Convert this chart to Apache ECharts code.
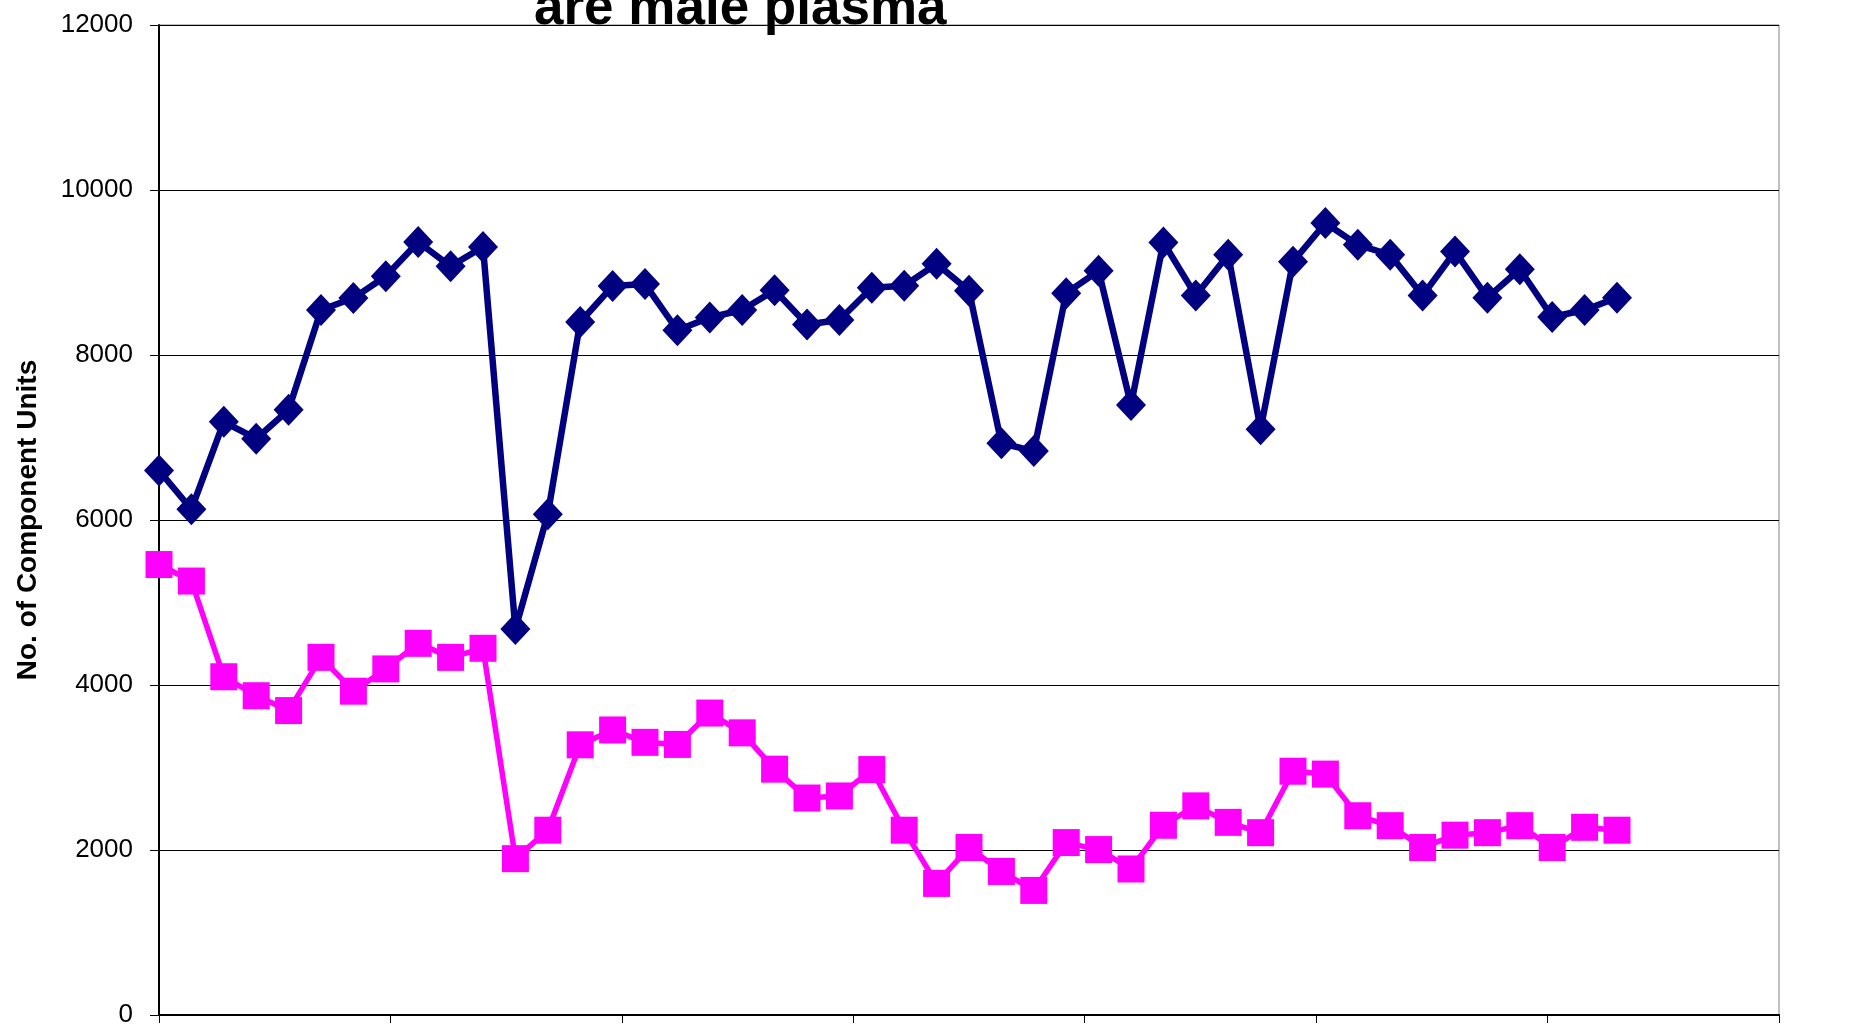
<!DOCTYPE html>
<html>
<head>
<meta charset="utf-8">
<script src="https://cdn.jsdelivr.net/npm/echarts@6/dist/echarts.min.js"></script>
<style>
html,body{margin:0;padding:0;background:#fff;}
#chart{width:1858px;height:1036px;}
</style>
</head>
<body>
<div id="chart"></div>
<script>
// x positions of the samples (day offsets)
const days = [0,7,14,21,28,35,42,49,56,63,70,77,84,91,98,105,112,119,126,133,140,147,154,161,168,175,182,189,196,203,210,217,224,231,238,245,252,259,266,273,280,287,294,301,308,315];

// navy series (diamonds)
const seriesA = [6600,6130,7190,6985,7335,8545,8690,8955,9370,9075,9310,4680,6070,8400,8835,8860,8300,8455,8545,8785,8370,8425,8815,8840,9105,8780,6930,6835,8750,9020,7395,9365,8720,9215,7100,9130,9600,9335,9215,8720,9255,8695,9040,8460,8545,8695];

// magenta series (squares)
const seriesB = [5460,5260,4100,3870,3690,4335,3925,4195,4505,4335,4445,1895,2240,3275,3455,3305,3280,3660,3420,2980,2630,2655,2975,2240,1595,2030,1740,1510,2090,2005,1770,2300,2535,2335,2210,2955,2920,2415,2295,2030,2180,2210,2295,2030,2275,2240];

const titleText = 'are male plasma';
const yAxisName = 'No. of Component Units';

const FONT = 'Liberation Sans, Arial, sans-serif';

function pairs(xs, ys){ return xs.map((x,i)=>[x, ys[i]]); }

const chart = echarts.init(document.getElementById('chart'), null, {renderer:'canvas'});
chart.setOption({
  animation: false,
  backgroundColor: '#ffffff',
  title: {
    text: titleText,
    left: 534,
    top: -17,
    padding: 0,
    textStyle: {fontFamily: FONT, fontSize: 53, fontWeight: 'bold', color: '#000'}
  },
  grid: {
    left: 159, right: 79, top: 25, bottom: 21,
    show: true, borderColor: '#808080', borderWidth: 1, backgroundColor: 'transparent'
  },
  xAxis: {
    type: 'value',
    min: 0, max: 350, interval: 50,
    axisLine: {show: true, onZero: false, lineStyle: {color: '#000', width: 2}},
    axisTick: {show: true, inside: false, length: 8, lineStyle: {color: '#000', width: 1}},
    axisLabel: {show: false},
    splitLine: {show: false}
  },
  yAxis: {
    type: 'value',
    min: 0, max: 12000, interval: 2000,
    name: yAxisName,
    nameLocation: 'middle',
    nameGap: 117,
    nameRotate: 90,
    nameTextStyle: {fontFamily: FONT, fontSize: 28, fontWeight: 'bold', color: '#000'},
    axisLine: {show: true, lineStyle: {color: '#000', width: 2}},
    axisTick: {show: true, inside: false, length: 9, lineStyle: {color: '#000', width: 1}},
    axisLabel: {fontFamily: FONT, fontSize: 26, color: '#000', margin: 26, formatter: function(v){ return String(v); }},
    splitLine: {show: true, lineStyle: {color: '#000', width: 1}}
  },
  series: [
    {
      name: 'A',
      type: 'line',
      data: pairs(days, seriesA),
      symbol: 'diamond',
      symbolSize: [30, 32],
      showAllSymbol: true,
      lineStyle: {color: '#000080', width: 6.5},
      itemStyle: {color: '#000080'},
      z: 3
    },
    {
      name: 'B',
      type: 'line',
      data: pairs(days, seriesB),
      symbol: 'rect',
      symbolSize: 27,
      showAllSymbol: true,
      lineStyle: {color: '#ff00ff', width: 5.5},
      itemStyle: {color: '#ff00ff'},
      z: 4
    }
  ]
});
</script>
</body>
</html>
